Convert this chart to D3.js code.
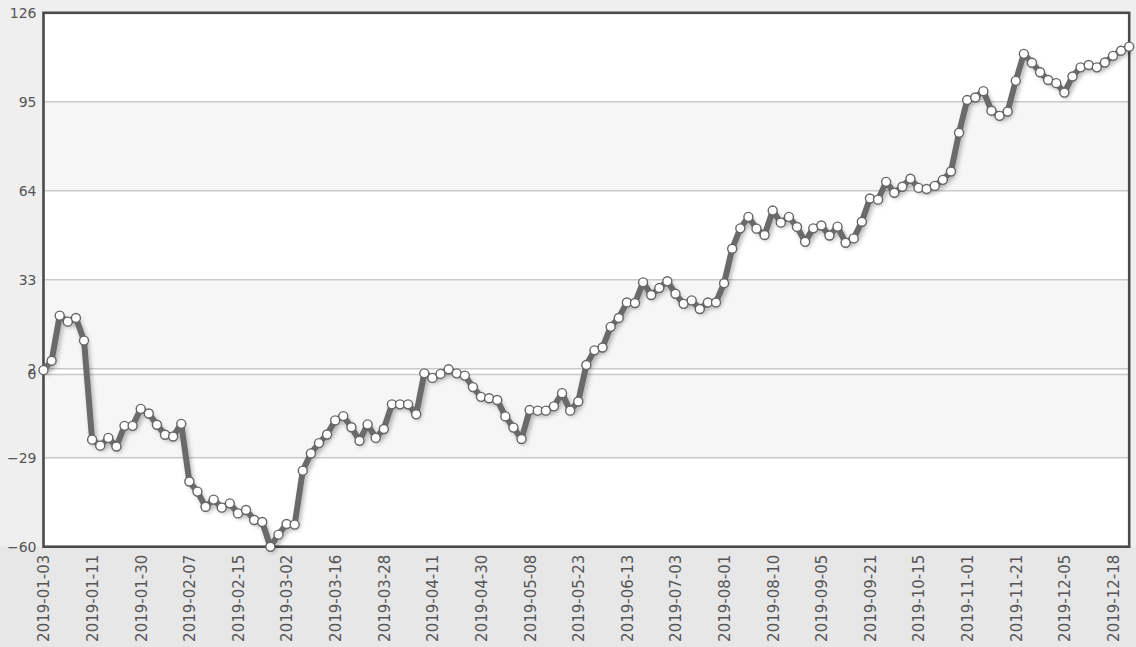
<!DOCTYPE html>
<html>
<head>
<meta charset="utf-8">
<script src="https://cdn.jsdelivr.net/npm/d3@7/dist/d3.min.js"></script>
<style>
html,body{margin:0;padding:0;background:#eeeeee;}
svg{display:block;}
text{font-family:"DejaVu Sans",Verdana,sans-serif;fill:#555;}
</style>
</head>
<body>
<svg id="chart" width="1136" height="647"></svg>
<script>
const tickLabels = ["2019-01-03","2019-01-11","2019-01-30","2019-02-07","2019-02-15","2019-03-02","2019-03-16","2019-03-28","2019-04-11","2019-04-30","2019-05-08","2019-05-23","2019-06-13","2019-07-03","2019-08-01","2019-08-10","2019-09-05","2019-09-21","2019-10-15","2019-11-01","2019-11-21","2019-12-05","2019-12-18"];
const labelEvery = 6;
const yTicks = [126, 95, 64, 33, 2, 0, -29, -60];
const values = [
 1.5, 4.8, 20.5, 18.4, 19.7, 11.8, -22.7, -24.8, -22.1, -25.1,
 -17.9, -17.9, -12.0, -13.6, -17.5, -21.0, -21.6, -17.2, -37.3, -40.8,
 -46.1, -43.6, -46.4, -44.9, -48.4, -47.2, -50.7, -51.4, -60.0, -55.8,
 -52.1, -52.3, -33.5, -27.5, -23.9, -20.9, -16.0, -14.5, -18.4, -23.1,
 -17.4, -22.1, -19.0, -10.4, -10.4, -10.4, -13.9, 0.4, -1.2, 0.2,
 1.8, 0.4, -0.4, -4.4, -7.8, -8.3, -8.9, -14.6, -18.5, -22.5,
 -12.4, -12.6, -12.6, -11.1, -6.5, -12.6, -9.4, 3.3, 8.4, 9.4,
 16.6, 19.7, 25.1, 24.9, 32.1, 27.7, 30.1, 32.5, 28.1, 24.6,
 25.8, 22.8, 25.1, 25.1, 31.8, 43.8, 50.9, 54.9, 50.8, 48.6,
 57.1, 52.9, 54.9, 51.4, 46.2, 50.9, 51.9, 48.4, 51.5, 45.9,
 47.4, 53.2, 61.3, 60.9, 67.1, 63.3, 65.4, 68.2, 65.0, 64.6,
 65.7, 67.8, 70.7, 84.2, 95.6, 96.5, 98.7, 91.9, 90.1, 91.6,
 102.3, 111.7, 108.6, 105.3, 102.6, 101.5, 98.2, 103.8, 107.0, 107.8,
 107.0, 108.7, 111.0, 112.8, 114.2
];

(function(){
const svg = d3.select("#chart");
const W = 1136, H = 647;
const pL = 43.5, pR = 1129.2, pT = 12.8, pB = 546.7;

const idx = d3.range(values.length);
const x = d3.scalePoint().domain(idx).range([pL, pR]).padding(0);
const y = d3.scaleLinear().domain([-60, 126]).range([pB, pT]);

const defs = svg.append("defs");
const f = defs.append("filter").attr("id","shadow").attr("x","-5%").attr("y","-5%").attr("width","110%").attr("height","110%");
f.append("feDropShadow").attr("dx",2).attr("dy",3).attr("stdDeviation",2).attr("flood-color","#000").attr("flood-opacity",0.28);

// background
svg.append("rect").attr("x",0).attr("y",0).attr("width",W).attr("height",H).attr("fill","#efefef");
svg.append("rect").attr("x",0).attr("y",pB).attr("width",W).attr("height",H-pB).attr("fill","#e7e7e7");

// plot bands
svg.append("rect").attr("x",pL).attr("y",pT).attr("width",pR-pL).attr("height",pB-pT).attr("fill","#ffffff");
const sorted = yTicks.slice().sort((a,b)=>b-a);
for (let i = 0; i < sorted.length-1; i++) {
  if (i % 2 === 1) {
    svg.append("rect").attr("x",pL).attr("width",pR-pL)
      .attr("y",y(sorted[i])).attr("height",y(sorted[i+1])-y(sorted[i]))
      .attr("fill","#f6f6f6");
  }
}
// gridlines
svg.append("g").selectAll("line").data(yTicks.filter(t=>t!==126 && t!==-60)).join("line")
  .attr("x1",pL).attr("x2",pR).attr("y1",d=>y(d)).attr("y2",d=>y(d))
  .attr("stroke","#c9c9c9").attr("stroke-width",1.5);

// y axis labels
const yAxis = d3.axisLeft(y).tickValues(yTicks).tickSize(0).tickPadding(7).tickFormat(d3.format("d"));
const gy = svg.append("g").attr("transform",`translate(${pL},0)`).call(yAxis);
gy.select(".domain").remove();
gy.selectAll("text").style("font-size","14px").style("fill","#555").style("font-family","DejaVu Sans, sans-serif");

// x axis labels
const xAxis = d3.axisBottom(x).tickValues(idx.filter(i=>i%labelEvery===0)).tickSize(0)
  .tickFormat(i => tickLabels[i/labelEvery]);
const gx = svg.append("g").attr("transform",`translate(0,${pB})`).call(xAxis);
gx.select(".domain").remove();
gx.selectAll("text").attr("transform","rotate(-90)").attr("text-anchor","end")
  .attr("x",-8).attr("y",0).attr("dy","0.36em")
  .style("font-size","15px").style("fill","#555").style("font-family","DejaVu Sans, sans-serif");

// frame
svg.append("rect").attr("x",pL).attr("y",pT).attr("width",pR-pL).attr("height",pB-pT)
  .attr("fill","none").attr("stroke","#4a4a4a").attr("stroke-width",2.6);

// line
const line = d3.line().x((d,i)=>x(i)).y(d=>y(d));
svg.append("path").datum(values).attr("d",line).attr("fill","none")
  .attr("stroke","#6a6a6a").attr("stroke-width",6).attr("stroke-linejoin","round")
  .attr("filter","url(#shadow)");

// markers
svg.append("g").selectAll("circle").data(values).join("circle")
  .attr("cx",(d,i)=>x(i)).attr("cy",d=>y(d)).attr("r",4.5)
  .attr("fill","#ffffff").attr("stroke","#666").attr("stroke-width",1.4);
})();
</script>
</body>
</html>
